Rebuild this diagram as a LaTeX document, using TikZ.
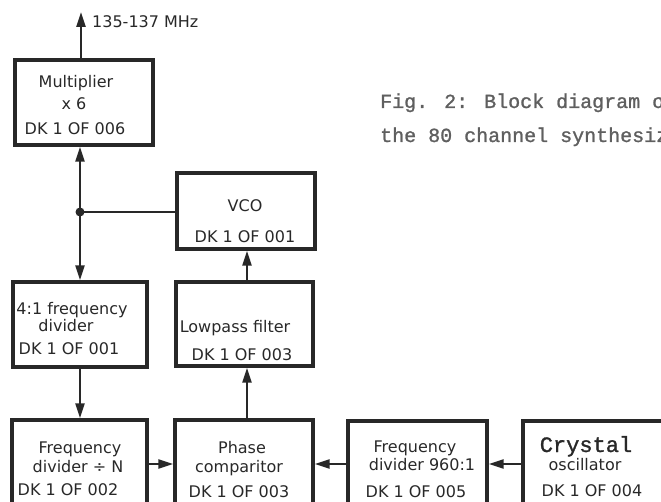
\documentclass[tikz,border=0pt]{standalone}
\usepackage{fontspec}
\setmainfont{DejaVu Sans}
\newfontfamily\monofont[FakeBold=1.2]{Liberation Mono}
\usetikzlibrary{arrows.meta}
\definecolor{ink}{RGB}{40,40,40}
\definecolor{capink}{RGB}{95,95,95}
\begin{document}
\begin{tikzpicture}[x=1pt,y=-1pt,
  blk/.style={draw=ink, line width=3.4pt, inner sep=0pt},
  wire/.style={draw=ink, line width=2.3pt},
  conn/.style={wire, -{Triangle[length=15pt,width=9pt]}},
  lbl/.style={text=ink, font=\fontsize{16}{16}\selectfont, inner sep=0pt, anchor=base},
  tlbl/.style={text=ink, font=\monofont\fontsize{22}{22}\selectfont, inner sep=0pt, anchor=base},
  captxt/.style={text=capink, font=\monofont\fontsize{20}{20}\selectfont, inner sep=0pt, anchor=base west}
]
\useasboundingbox (0,0) rectangle (661,502);

% boxes
\node[blk, minimum width=138pt, minimum height=85pt] (mult)   at (84,102.5) {};
\node[blk, minimum width=138pt, minimum height=76pt] (vco)    at (246,211) {};
\node[blk, minimum width=134pt, minimum height=85pt] (div4)   at (80,324.5) {};
\node[blk, minimum width=137pt, minimum height=84pt] (lpf)    at (244.5,324) {};
\node[blk, minimum width=135pt, minimum height=90pt] (divn)   at (79.5,465) {};
\node[blk, minimum width=138pt, minimum height=90pt] (phase)  at (244,465) {};
\node[blk, minimum width=139pt, minimum height=89pt] (div960) at (417.5,465.5) {};
\node[blk, minimum width=167pt, minimum height=89pt] (xtal)   at (606.5,465.5) {};

% box texts
\node[lbl] (mult1) at (76,88) {Multiplier};
\node[lbl] (mult2) at (74,110) {x 6};
\node[lbl] (mult3) at (75,135) {DK 1 OF 006};

\node[lbl] (vco1) at (245,212) {VCO};
\node[lbl] (vco2) at (245,243) {DK 1 OF 001};

\node[lbl] (div41) at (72,315) {4:1 frequency};
\node[lbl] (div42) at (66,332) {divider};
\node[lbl] (div43) at (69,355) {DK 1 OF 001};

\node[lbl] (lpf1) at (235,333) {Lowpass filter};
\node[lbl] (lpf2) at (242,361) {DK 1 OF 003};

\node[lbl] (divn1) at (80,453) {Frequency};
\node[lbl] (divn2) at (78,472) {divider ÷ N};
\node[lbl] (divn3) at (68,495) {DK 1 OF 002};

\node[lbl] (ph1) at (242,453) {Phase};
\node[lbl] (ph2) at (239,472) {comparitor};
\node[lbl] (ph3) at (239,497) {DK 1 OF 003};

\node[lbl] (d9601) at (415,452) {Frequency};
\node[lbl] (d9602) at (422,470) {divider 960:1};
\node[lbl] (d9603) at (416,497) {DK 1 OF 005};

\node[tlbl] (x1) at (586,452) {Crystal};
\node[lbl] (x2) at (585,470) {oscillator};
\node[lbl] (x3) at (592,496) {DK 1 OF 004};

% output
\coordinate (out) at (81,12);
\node[lbl, anchor=base west] (mhz) at (92,28) {135-137 MHz};
\draw[conn] (out |- mult.north) -- (out);

% junction
\coordinate (j) at (80,212);
\fill[ink] (j) circle (4.5pt);
\draw[conn] (j) -- (j |- mult.south);
\draw[conn] (j) -- (j |- div4.north);
\draw[wire] (j) -- (j -| vco.west);
\draw[conn] (j |- div4.south) -- (j |- divn.north);

% loop
\coordinate (v) at (247,0);
\draw[conn] (v |- lpf.north) -- (v |- vco.south);
\draw[conn] (v |- phase.north) -- (v |- lpf.south);

\coordinate (h) at (0,464);
\draw[conn] (h -| divn.east) -- (h -| phase.west);
\draw[conn] (h -| div960.west) -- (h -| phase.east);
\draw[conn] (h -| xtal.west) -- (h -| div960.east);

% caption
\node[captxt] (cap1) at (380,108) {Fig. 2: Block diagram of};
\node[captxt] (cap2) at (380,142) {the 80 channel synthesizer};
\end{tikzpicture}
\end{document}
